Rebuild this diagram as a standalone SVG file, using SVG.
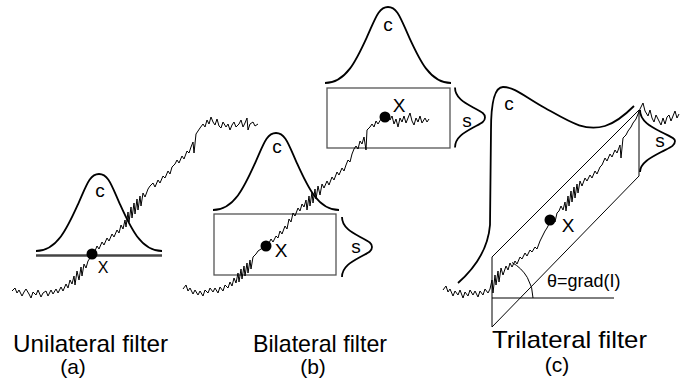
<svg xmlns="http://www.w3.org/2000/svg" width="681" height="383" viewBox="0 0 681 383">
<style>
.sig{fill:none;stroke:#000;stroke-width:1;stroke-linejoin:round}
.g{fill:none;stroke:#000;stroke-width:1.8}
.box{fill:none;stroke:#555;stroke-width:1.3}
.ln{fill:none;stroke:#000;stroke-width:1}
.dot{fill:#000}
.t{font-family:"Liberation Sans",Arial,sans-serif;fill:#000}
.lab{font-size:19px;text-anchor:middle}
.cap{font-size:24px}
.sub{font-size:21px;text-anchor:middle}
</style>
<rect width="681" height="383" fill="#fff"/>
<g id="panel-a">
<path class="g" d="M36,251 C57,251 67.5,227.6 78,204.3 C86.4,185.6 89.5,174 99,174 C108.5,174 111.6,185.6 120,204.3 C130.5,227.6 141,251 162,251"/>
<line x1="36" y1="255.5" x2="162" y2="255.5" stroke="#444" stroke-width="2.6"/>
<polyline class="sig" points="12,291 15,288 17,293 19,290 22,296 24,292 26,289 29,294 31,298 33,292 36,295 38,290 41,297 43,293 46,291 48,296 51,290 53,294 56,289 58,293 61,287 63,291 66,284 68,288 70,280 72,284 74,276 75,285 77,271 79,280 81,267 82,276 84,264 86,268 88,261 90,258 92,254 95,251 97,246 99,249 102,242 104,245 107,238 109,241 112,234 114,237 117,230 119,233 121,225 123,229 125,220 126,227 128,212 129,222 131,207 132,218 134,203 135,214 137,199 138,210 140,196 141,206 143,193 145,197 148,189 150,186 153,183 155,187 158,180 160,183 163,176 165,178 168,171 170,174 172,167 175,164 177,160 179,163 182,156 184,159 187,151 189,153 191,147 193,142 194,153 196,134 198,131 200,128 203,124 205,127 207,120 209,124 211,117 213,122 215,125 217,119 219,126 221,128 223,122 226,127 228,124 230,130 232,125 234,122 236,127 239,124 241,120 243,127 245,123 247,118 248,130 250,124 253,122 255,126 258,124"/>
<circle class="dot" cx="92" cy="254" r="5.5"/>
<text class="t lab" x="100" y="197">c</text>
<text class="t" x="103" y="273" font-size="16" text-anchor="middle">X</text>
</g>
<g id="panel-b">
<path class="g" d="M213,210 C234,210 244.5,186.6 255,163.3 C263.4,144.6 266.5,133 276,133 C285.5,133 288.6,144.6 297,163.3 C307.5,186.6 318,210 339,210"/>
<path class="g" d="M325,83 C346,83 356.5,59.9 367,36.9 C375.4,18.4 378.5,7 388,7 C397.5,7 400.6,18.4 409,36.9 C419.5,59.9 430,83 451,83"/>
<rect class="box" x="214" y="214" width="122" height="61"/>
<rect class="box" x="327" y="88" width="123" height="60"/>
<path class="g" d="M342,217 C342,227 351.1,232 360.2,237 C367.5,241 372,242.5 372,247 C372,251.5 367.5,253 360.2,257 C351.1,262 342,267 342,277"/>
<path class="g" d="M455,87.5 C455,97.5 464.1,102.5 473.2,107.5 C480.5,111.5 485,113 485,117.5 C485,122 480.5,123.5 473.2,127.5 C464.1,132.5 455,137.5 455,147.5"/>
<polyline class="sig" points="183,289 186,285 188,291 190,288 193,294 195,290 198,295 200,291 203,296 205,290 208,293 210,288 213,292 215,288 218,293 220,287 223,291 225,285 228,288 230,282 232,286 234,278 236,283 238,273 239,282 241,269 242,279 244,266 245,276 247,263 248,273 250,260 251,269 253,257 256,254 258,251 261,249 263,248 266,246 269,243 271,239 273,242 276,236 278,238 280,231 282,234 285,226 287,229 289,219 291,222 293,213 295,216 298,208 300,211 302,204 304,207 306,200 307,210 309,196 310,206 312,192 313,203 315,189 316,199 318,186 320,195 322,184 324,188 327,181 329,185 332,177 334,180 337,172 339,175 342,168 344,171 346,165 348,160 350,162 352,154 354,149 356,146 358,149 360,141 362,144 364,137 366,150 367,130 370,127 372,124 374,127 376,121 378,124 381,119 383,118 385,118 388,115 390,120 392,116 394,124 396,119 398,127 400,118 402,122 404,116 406,123 408,118 410,113 412,121 414,125 416,118 418,122 420,116 422,123 425,118 427,122 429,119"/>
<circle class="dot" cx="266" cy="246" r="5.5"/>
<circle class="dot" cx="385" cy="117" r="5.5"/>
<text class="t lab" x="277" y="153">c</text>
<text class="t lab" x="388" y="31">c</text>
<text class="t lab" x="281" y="257">X</text>
<text class="t lab" x="399" y="112">X</text>
<text class="t lab" x="356" y="253">s</text>
<text class="t lab" x="467" y="127">s</text>
</g>
<g id="panel-c">
<path class="g" d="M458,283 C475,268 488,250 490,225 L491,130 C491,100 495,87 503,87 C515,87 525,97 545,108 C570,122 585,132 605,126 C618,122 628,112 634,106"/>
<polyline class="ln" points="492,327 492,257 639,110 639,176 492,327"/>
<line class="ln" x1="492" y1="298" x2="614" y2="298"/>
<path class="ln" d="M533,298 A41,41 0 0 0 512,262.5"/>
<path class="g" d="M640,110 C640,121 650.6,126.5 661.2,132 C669.8,136.5 675,138 675,141 C675,146 669.8,147.5 661.2,152 C650.6,157.5 640,163 640,172"/>
<polyline class="sig" points="443,290 446,286 448,292 450,289 453,296 455,291 458,295 460,290 463,298 465,292 468,296 470,290 473,295 475,291 478,297 480,291 483,295 485,289 488,293 490,289 492,280 493,293 495,275 496,285 498,271 499,282 501,268 503,275 506,266 508,270 510,263 512,267 515,261 517,264 520,257 522,259 525,253 527,256 530,250 532,252 535,247 537,249 540,241 542,237 545,231 547,228 549,224 550,221 553,218 555,222 557,213 559,211 561,206 563,210 565,202 566,211 568,196 569,206 571,191 572,202 574,187 575,198 577,184 578,193 580,181 582,186 585,178 587,181 590,175 592,178 595,171 597,174 600,167 602,165 605,158 607,161 610,154 612,157 615,150 617,153 620,145 621,158 623,138 626,135 628,131 631,127 633,123 636,119 638,114 640,109 643,103 645,111 648,116 650,110 652,118 654,122 656,115 659,121 661,125 663,118 665,124 667,117 669,115 671,121 673,116 675,111 677,118 679,114"/>
<circle class="dot" cx="550" cy="220" r="5.5"/>
<text class="t lab" x="509" y="110">c</text>
<text class="t lab" x="568" y="232">X</text>
<text class="t lab" x="660" y="147">s</text>
<text class="t" x="547" y="287" font-size="18">θ=grad(I)</text>
</g>
<g id="captions">
<text class="t cap" x="13" y="352" textLength="155" lengthAdjust="spacingAndGlyphs">Unilateral filter</text>
<text class="t sub" x="73" y="374">(a)</text>
<text class="t cap" x="253" y="352" textLength="134" lengthAdjust="spacingAndGlyphs">Bilateral filter</text>
<text class="t sub" x="313" y="374">(b)</text>
<text class="t cap" x="492" y="348" textLength="155" lengthAdjust="spacingAndGlyphs">Trilateral filter</text>
<text class="t sub" x="557" y="372">(c)</text>
</g>
</svg>
